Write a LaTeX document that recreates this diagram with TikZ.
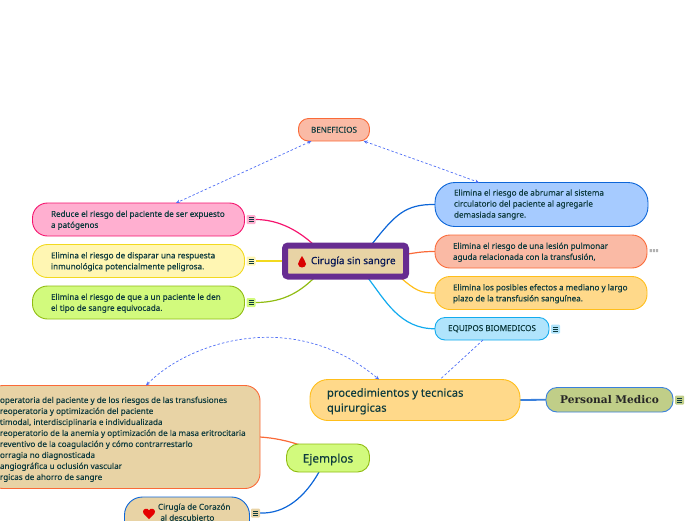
\documentclass[tikz,border=0pt]{standalone}
\usepackage{fontspec}
\setmainfont{Noto Sans}[FakeBold=0.25]
\newfontfamily\serifbold{DejaVu Serif}
\usetikzlibrary{arrows.meta,backgrounds}
\definecolor{ink}{HTML}{0E3B3E}
\definecolor{dashblue}{HTML}{4F6EF5}
\definecolor{pinkf}{HTML}{FFAFD0}\definecolor{pinkd}{HTML}{F5146E}
\definecolor{yelf}{HTML}{FFF6B3}\definecolor{yeld}{HTML}{F2D91F}
\definecolor{grnf}{HTML}{D2FA7D}\definecolor{grnd}{HTML}{90BC12}
\definecolor{bluf}{HTML}{A6CBFF}\definecolor{blud}{HTML}{0D66D8}
\definecolor{salf}{HTML}{FABAA5}\definecolor{sald}{HTML}{FA6A38}
\definecolor{orgf}{HTML}{FFD98A}\definecolor{orgd}{HTML}{FFBE1A}
\definecolor{cyaf}{HTML}{B0E4FC}\definecolor{cyad}{HTML}{12ABEE}
\definecolor{tanf}{HTML}{E8D3A5}
\definecolor{olvf}{HTML}{C0CE88}\definecolor{olvd}{HTML}{3A80DC}
\definecolor{purp}{HTML}{672C91}
\tikzset{
 x=1pt,y=-1pt,
 box/.style={rounded corners=#1,line width=.9pt,inner sep=0pt,outer sep=0pt,anchor=north west,text=ink},
 bodytext/.style={font=\fontsize{8.1}{11}\selectfont,align=left},
 conn/.style={line width=1.2pt},
 rel/.style={dashed,dash pattern=on 2.5pt off 2pt,draw=dashblue,line width=.7pt},
 relboth/.style={rel,{Stealth[length=4pt,width=3.5pt]}-{Stealth[length=4pt,width=3.5pt]}},
 noteicon/.style={minimum width=9pt,minimum height=9pt,inner sep=0pt,outer sep=0pt,fill=#1,rounded corners=1pt,
   path picture={\draw[ink,line width=.45pt]
     ([xshift=-2.5pt,yshift=2pt]path picture bounding box.center)--([xshift=2.5pt,yshift=2pt]path picture bounding box.center)
     ([xshift=-2.5pt]path picture bounding box.center)--([xshift=2.5pt]path picture bounding box.center)
     ([xshift=-2.5pt,yshift=-2pt]path picture bounding box.center)--([xshift=2.5pt,yshift=-2pt]path picture bounding box.center);}},
 txt/.style={inner sep=0pt,outer sep=0pt,text=ink}
}
\begin{document}
\begin{tikzpicture}
\useasboundingbox (0,0) rectangle (696,520);
\clip (0,0) rectangle (696,520);
% boxes
\node[box=10pt,draw=sald,fill=salf,minimum width=71pt,minimum height=22.5pt] (ben) at (298.5,118.5) {};
\node[txt,font=\fontsize{8.1}{11}\selectfont] at (ben.center) {BENEFICIOS};

\node[box=15pt,draw=pinkd,fill=pinkf,minimum width=212pt,minimum height=33pt] (pink) at (32.5,203) {};
\node[txt,bodytext,anchor=west] at (51,220.2) {Reduce el riesgo del paciente de ser expuesto\\a patógenos};
\node[box=15pt,draw=yeld,fill=yelf,minimum width=212pt,minimum height=33pt] (yel) at (32.5,244.5) {};
\node[txt,bodytext,anchor=west] at (51,261.7) {Elimina el riesgo de disparar una respuesta\\inmunológica potencialmente peligrosa.};
\node[box=15pt,draw=grnd,fill=grnf,minimum width=212pt,minimum height=33pt] (grn) at (32.5,286) {};
\node[txt,bodytext,anchor=west] at (51,303.2) {Elimina el riesgo de que a un paciente le den\\el tipo de sangre equivocada.};
\node[noteicon=pinkf] (ipink) at (251,219.5) {};
\node[noteicon=yelf] (iyel) at (251,261) {};
\node[noteicon=grnf] (igrn) at (251,302.5) {};

\node[box=3pt,draw=purp,fill=tanf,line width=6pt,minimum width=121pt,minimum height=31pt] (hub) at (285,245.5) {};
\node[txt,anchor=west,font=\fontsize{10}{12}\selectfont,text=ink!60!blue!60!black] at (311,261.5) {Cirugía sin sangre};
\fill[red!85!black] (302,256) .. controls (303,259) and (306,261) .. (306,264) .. controls (306,266) and (304,267.5) .. (302,267.5) .. controls (300,267.5) and (298,266) .. (298,264) .. controls (298,261) and (301,259) .. (302,256) -- cycle;

\node[box=20pt,draw=blud,fill=bluf,minimum width=213pt,minimum height=44pt] (blu) at (435,182.5) {};
\node[txt,bodytext,anchor=west] at (454,204.5) {Elimina el riesgo de abrumar al sistema\\circulatorio del paciente al agregarle\\demasiada sangre.};
\node[box=15pt,draw=sald,fill=salf,minimum width=212pt,minimum height=33pt] (sal) at (435,235) {};
\node[txt,bodytext,anchor=west] at (453,252.2) {Elimina el riesgo de una lesión pulmonar\\aguda relacionada con la transfusión,};
\fill[black!30] (649.5,249) rectangle (652,252) (653,249) rectangle (655,252) (656,249) rectangle (658,252);
\node[box=15pt,draw=orgd,fill=orgf,minimum width=212pt,minimum height=33pt] (org) at (435,276.5) {};
\node[txt,bodytext,anchor=west] at (453,293.7) {Elimina los posibles efectos a mediano y largo\\plazo de la transfusión sanguínea.};
\node[box=10pt,draw=cyad,fill=cyaf,minimum width=114pt,minimum height=22.5pt] (equ) at (435,317.5) {};
\node[txt,font=\fontsize{8.1}{11}\selectfont] at (equ.center) {EQUIPOS BIOMEDICOS};
\node[noteicon=cyaf] (iequ) at (555.5,329) {};

\node[box=18pt,draw=orgd,fill=orgf,minimum width=210pt,minimum height=41pt] (proc) at (310,379.5) {};
\node[txt,anchor=west,align=left,font=\fontsize{11.2}{15}\selectfont] at (327,401.3) {procedimientos y tecnicas\\quirurgicas};
\node[box=11pt,draw=olvd,fill=olvf,minimum width=127pt,minimum height=24.5pt] (pers) at (546,387.5) {};
\node[txt,font=\fontsize{10.6}{14}\serifbold\bfseries,text=black!85] at (pers.center) {Personal Medico};
\node[noteicon=olvf] (ipers) at (679.5,400) {};

\node[box=12pt,draw=grnd,fill=grnf,minimum width=83pt,minimum height=28pt] (eje) at (286.5,444) {};
\node[txt,font=\fontsize{11.8}{15}\selectfont] at ([yshift=-1.5pt]eje.center) {Ejemplos};

\node[box=15pt,draw=sald,fill=tanf,minimum width=272pt,minimum height=103pt] (big) at (-12,385.5) {};
\node[txt,bodytext,anchor=west] at (0,439.3) {operatoria del paciente y de los riesgos de las transfusiones\\reoperatoria y optimización del paciente\\timodal, interdisciplinaria e individualizada\\reoperatorio de la anemia y optimización de la masa eritrocitaria\\reventivo de la coagulación y cómo contrarrestarlo\\orragia no diagnosticada\\angiográfica u oclusión vascular\\rgicas de ahorro de sangre};

\node[box=18pt,draw=blud,fill=tanf,minimum width=125pt,minimum height=44pt] (cor) at (124.5,497) {};
\node[txt,bodytext,anchor=north west] at (158,503.5) {Cirugía de Corazón\\\hspace*{2.5pt}al descubierto};
\fill[red!90!black] (149,519) .. controls (146,516) and (143,514) .. (143,511.5) .. controls (143,509) and (147.5,507) .. (149,510.5) .. controls (150.5,507) and (155,509) .. (155,511.5) .. controls (155,514) and (152,516) .. (149,519) -- cycle;
\node[noteicon=tanf] (icor) at (255.5,513) {};

% connectors
\begin{pgfonlayer}{background}
\draw[conn,pinkd] (ipink.east) .. controls (280,219.5) and (300,232) .. (314,245);
\draw[conn,yeld] (iyel.east) -- (hub.west |- iyel.east);
\draw[conn,grnd] (igrn.east) .. controls (285,302.5) and (302,290) .. (315,277);
\draw[conn,blud] (blu.west) .. controls (405,204) and (395,215) .. (372,244);
\draw[conn,sald] (sal.west) .. controls (425,251.5) and (420,252) .. (408,254);
\draw[conn,orgd] (org.west) .. controls (420,293) and (415,290) .. (401,278);
\draw[conn,cyad] (equ.west) .. controls (400,329) and (385,300) .. (368,278);
\draw[conn,olvd,line width=1.8pt] (proc.east) -- (pers.west);
\draw[conn,sald] (big.east |- 0,437) .. controls (275,438) and (288,441) .. (300,445);
\draw[conn,blud] (icor.east) .. controls (285,514) and (305,497) .. (319,472);
\end{pgfonlayer}
\draw[relboth] ([xshift=13pt]ben.south west) -- ([xshift=143.5pt]pink.north west);
\draw[relboth] ([xshift=-6pt]ben.south east) .. controls (400,154) and (440,168) .. ([xshift=-62.5pt]blu.north);
\draw[rel] ([xshift=-9pt]equ.south) -- ([xshift=25pt]proc.north);
\draw[relboth] ([xshift=158pt]big.north west) .. controls (185,345) and (290,305) .. ([xshift=-36pt]proc.north);
\end{tikzpicture}
\end{document}
